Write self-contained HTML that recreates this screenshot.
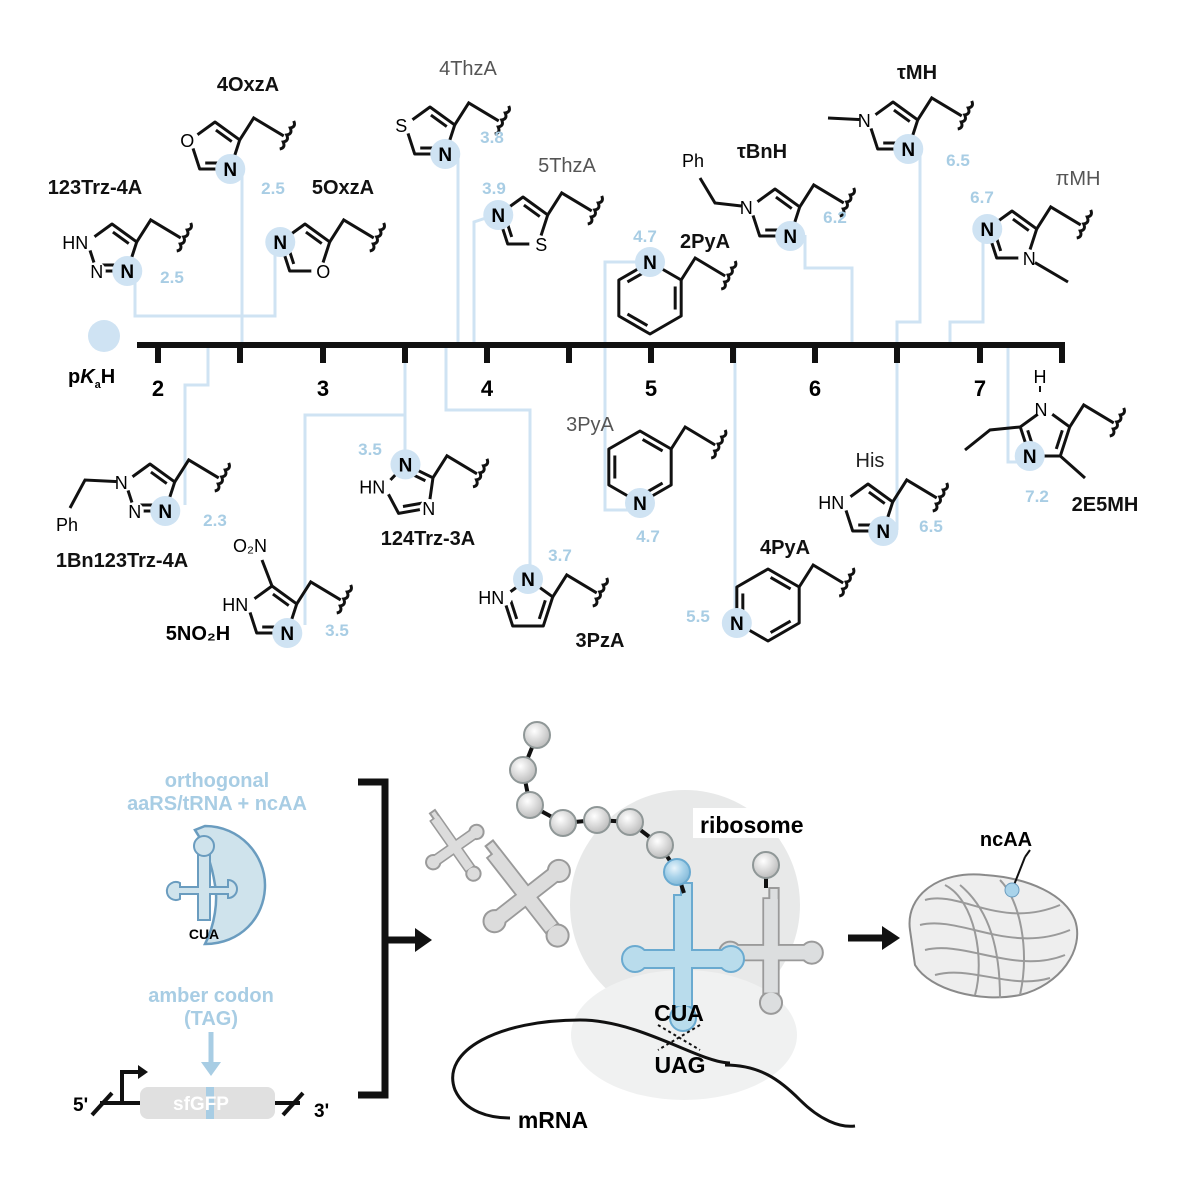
<!DOCTYPE html>
<html><head><meta charset="utf-8">
<style>
html,body{margin:0;padding:0;background:#fff;}
svg{display:block;font-family:"Liberation Sans",sans-serif;}
.b{font-weight:bold;}
</style></head>
<body>
<svg id="s" width="1200" height="1200" viewBox="0 0 1200 1200" xmlns="http://www.w3.org/2000/svg">
<defs>
<radialGradient id="bead" cx="0.4" cy="0.35" r="0.7">
<stop offset="0" stop-color="#ffffff"/><stop offset="0.5" stop-color="#dcdcdc"/><stop offset="1" stop-color="#b8b8b8"/></radialGradient>
<radialGradient id="bbead" cx="0.4" cy="0.35" r="0.7">
<stop offset="0" stop-color="#e8f4fb"/><stop offset="0.5" stop-color="#a9d3ea"/><stop offset="1" stop-color="#7fb6d6"/></radialGradient>
</defs>
<g id="conn" fill="none" stroke="#cfe3f3" stroke-width="3">
<polyline points="135,270 135,316 275,316 275,243"/>
<polyline points="242,170 242,345"/>
<polyline points="185,505 185,385 208,385 208,345"/>
<polyline points="305,625 305,415 405,415 405,345"/>
<polyline points="405,460 405,345"/>
<polyline points="458,150 458,345"/>
<polyline points="495,215 474,222 474,345"/>
<polyline points="530,578 530,410 446,410 446,345"/>
<polyline points="640,262 605,262 605,510 640,510"/>
<polyline points="735,625 735,345"/>
<polyline points="805,235 805,268 852,268 852,345"/>
<polyline points="920,155 920,322 897,322 897,530"/>
<polyline points="983,235 983,322 950,322 950,345"/>
<polyline points="1008,345 1008,462 1030,462"/>
</g>
<circle cx="104" cy="336" r="16" fill="#cfe3f3"/>
<text x="68" y="383" font-size="20" class="b">p<tspan font-style="italic">K</tspan><tspan font-size="11" dy="5">a</tspan><tspan dy="-5">H</tspan></text>
<g id="axis" stroke="#111" stroke-width="6" fill="none">
<line x1="137" y1="345" x2="1065" y2="345"/>
</g>
<g id="mols"></g>
<g id="ticks" font-size="22" class="b" text-anchor="middle">
<text x="158" y="396">2</text><text x="323" y="396">3</text><text x="487" y="396">4</text>
<text x="651" y="396">5</text><text x="815" y="396">6</text><text x="980" y="396">7</text>
</g>

<g font-size="20" class="b" fill="#a8cde4" text-anchor="middle">
<text x="217" y="787">orthogonal</text><text x="217" y="810">aaRS/tRNA + ncAA</text>
<text x="211" y="1002">amber codon</text><text x="211" y="1025">(TAG)</text>
</g>
<path d="M205,826 C240,826 265,855 265,885 C265,918 240,944 205,944 C215,925 218,900 215,885 C212,865 205,845 195,830 Z" fill="#cfe3ec" stroke="#6a9cbf" stroke-width="2.5"/>
<g fill="#cfe3ec" stroke="#6a9cbf" stroke-width="2">
<path d="M198,855 h12 v32 h18 v-7 a9,9 0 1 1 0,18 v-4 h-18 v26 h-12 v-26 h-18 v5 a9,9 0 1 1 0,-16 v4 h18 Z"/>
<circle cx="204" cy="846" r="10"/>
</g>
<text x="204" y="939" font-size="14" class="b" text-anchor="middle">CUA</text>
<line x1="211" y1="1032" x2="211" y2="1065" stroke="#a8cde4" stroke-width="5"/>
<polygon points="201,1062 221,1062 211,1076" fill="#a8cde4"/>
<line x1="100" y1="1103" x2="300" y2="1103" stroke="#111" stroke-width="4"/>
<rect x="140" y="1087" width="135" height="32" rx="8" fill="#e0e0e0"/>
<rect x="206" y="1087" width="8" height="32" fill="#a8cde4"/>
<text x="201" y="1110" font-size="19" class="b" fill="#fff" text-anchor="middle">sfGFP</text>
<polyline points="122,1103 122,1072 140,1072" fill="none" stroke="#111" stroke-width="4"/>
<polygon points="138,1065 148,1072 138,1079" fill="#111"/>
<line x1="92" y1="1115" x2="112" y2="1093" stroke="#111" stroke-width="4"/>
<line x1="283" y1="1115" x2="303" y2="1093" stroke="#111" stroke-width="4"/>
<text x="73" y="1111" font-size="19" class="b">5'</text>
<text x="314" y="1117" font-size="19" class="b">3'</text>
<polyline points="358,782 385,782 385,1095 358,1095" fill="none" stroke="#111" stroke-width="7"/>
<line x1="385" y1="940" x2="418" y2="940" stroke="#111" stroke-width="7"/>
<polygon points="415,928 432,940 415,952" fill="#111"/>

<circle cx="685" cy="905" r="115" fill="#e8e9e9"/>
<ellipse cx="684" cy="1035" rx="113" ry="65" fill="#f0f1f1"/>
<rect x="693" y="808" width="120" height="30" fill="#fff"/>
<text x="700" y="833" font-size="23" class="b">ribosome</text>
<path d="M730,1063 C700,1063 640,1020 580,1020 C500,1020 440,1050 455,1090 C465,1112 490,1118 510,1118" fill="none" stroke="#111" stroke-width="3"/>
<path d="M725,1065 C760,1065 780,1080 800,1100 C820,1120 840,1128 855,1126" fill="none" stroke="#111" stroke-width="3"/>
<text x="553" y="1128" font-size="23" class="b" text-anchor="middle">mRNA</text>

<g id="trnas"></g>
<g id="beads"></g>
<text x="679" y="1021" font-size="23" class="b" text-anchor="middle">CUA</text>
<text x="680" y="1073" font-size="23" class="b" text-anchor="middle">UAG</text>
<path d="M658,1025 L700,1050 M700,1025 L658,1050" stroke="#111" stroke-width="2" stroke-dasharray="3,3"/>

<line x1="848" y1="938" x2="885" y2="938" stroke="#111" stroke-width="7"/>
<polygon points="882,926 900,938 882,950" fill="#111"/>
<g fill="#eeeeee" stroke="#8a8a8a" stroke-width="2">
<path d="M910,930 C905,895 940,870 985,875 C1030,878 1065,895 1075,920 C1085,950 1060,985 1020,995 C980,1003 930,990 915,965 Z"/>
</g>
<g fill="none" stroke="#9a9a9a" stroke-width="2">
<path d="M925,900 C960,890 1000,930 1060,905"/>
<path d="M920,925 C960,915 1010,955 1070,930"/>
<path d="M925,950 C965,940 1015,975 1065,955"/>
<path d="M935,975 C970,965 1010,990 1050,978"/>
<path d="M945,885 C975,900 985,960 975,995"/>
<path d="M1000,880 C1020,900 1030,950 1020,995"/>
<path d="M960,885 C990,910 1000,950 1000,998"/>
</g>
<line x1="1012" y1="890" x2="1025" y2="857" stroke="#111" stroke-width="2"/>
<line x1="1025" y1="857" x2="1030" y2="850" stroke="#111" stroke-width="2"/>
<circle cx="1012" cy="890" r="7" fill="#a9d3ea" stroke="#6a9cbf"/>
<text x="1006" y="846" font-size="20" class="b" text-anchor="middle">ncAA</text>
</svg>
<script>
var NS="http://www.w3.org/2000/svg";
function el(p,t,a,txt){var e=document.createElementNS(NS,t);for(var k in a)e.setAttribute(k,a[k]);if(txt!==undefined)e.textContent=txt;p.appendChild(e);return e;}
var M=document.getElementById('mols');
[158,240,323,405,487,569,651,733,815,897,980,1062].forEach(function(x){el(M,'line',{x1:x,y1:343,x2:x,y2:363,stroke:'#111','stroke-width':6});});
function verts(cx,cy,r,n,rot){var v=[];for(var i=0;i<n;i++){var a=(rot+i*360/n)*Math.PI/180;v.push([cx+r*Math.cos(a),cy+r*Math.sin(a)]);}return v;}
function squig(x,y){var d="M"+(x-6)+","+(y+13);for(var i=0;i<4;i++){d+=" q6,-1 3.5,-7";}el(M,'path',{d:d,fill:'none',stroke:'#111','stroke-width':3});}
function chain(p){var a=[p[0],p[1]],b=[p[0]+14,p[1]-22],c=[p[0]+44,p[1]-4];el(M,'polyline',{points:[a,b,c].map(function(q){return q.join(',')}).join(' '),fill:'none',stroke:'#111','stroke-width':3});squig(c[0]+2,c[1]);}
function ring(o){var n=o.n||5;var v=verts(o.cx,o.cy,o.r||26,n,o.rot===undefined?-90:o.rot);
 el(M,'polygon',{points:v.map(function(q){return q.join(',')}).join(' '),fill:'none',stroke:'#111','stroke-width':3,'stroke-linejoin':'round'});
 (o.dbl||[]).forEach(function(i){var a=v[i],b=v[(i+1)%n];var mx=(a[0]+b[0])/2,my=(a[1]+b[1])/2;var sx=o.cx-mx,sy=o.cy-my;var L=Math.hypot(sx,sy);sx=sx/L*6;sy=sy/L*6;
  el(M,'line',{x1:a[0]+(b[0]-a[0])*0.18+sx,y1:a[1]+(b[1]-a[1])*0.18+sy,x2:a[0]+(b[0]-a[0])*0.82+sx,y2:a[1]+(b[1]-a[1])*0.82+sy,stroke:'#111','stroke-width':3});});
 if(o.sub!==undefined)chain(v[o.sub]);
 (o.extra||[]).forEach(function(e){var p=v[e[0]];el(M,'polyline',{points:[p].concat(e[1]).map(function(q){return q.join(',')}).join(' '),fill:'none',stroke:'#111','stroke-width':3});});
 var h=v[o.hl];el(M,'circle',{cx:h[0],cy:h[1],r:15,fill:'#cfe3f3'});
 el(M,'text',{x:h[0],y:h[1]+7,'font-size':19,'class':'b','text-anchor':'middle'},'N');
 (o.atoms||[]).forEach(function(a){var p=v[a[0]];el(M,'circle',{cx:p[0],cy:p[1],r:9,fill:'#fff'});el(M,'text',{x:p[0]+(a[2]||0),y:p[1]+7,'font-size':18,'text-anchor':'middle'},a[1]);});
 if(o.pk)el(M,'text',{x:o.pk[0],y:o.pk[1],'font-size':17,'class':'b',fill:'#a8cde4','text-anchor':'middle'},o.pk[2]);
 if(o.lab)el(M,'text',{x:o.lab[0],y:o.lab[1],'font-size':20,'class':o.lab[3]?'':'b',fill:o.lab[3]?(o.lab[4]||'#555'):'#111','text-anchor':'middle'},o.lab[2]);
}
ring({cx:112,cy:250,sub:1,hl:2,dbl:[0,2],atoms:[[4,'HN',-12],[3,'N']],pk:[172,283,'2.5'],lab:[95,194,'123Trz-4A']});
ring({cx:215,cy:148,sub:1,hl:2,dbl:[0,2],atoms:[[4,'O',-3]],pk:[273,194,'2.5'],lab:[248,91,'4OxzA']});
ring({cx:305,cy:250,sub:1,hl:4,dbl:[0,3],atoms:[[2,'O',3]],lab:[343,194,'5OxzA']});
ring({cx:430,cy:133,sub:1,hl:2,dbl:[0,2],atoms:[[4,'S',-4]],pk:[492,143,'3.8'],lab:[468,75,'4ThzA',1]});
ring({cx:523,cy:223,sub:1,hl:4,dbl:[0,3],atoms:[[2,'S',3]],pk:[494,194,'3.9'],lab:[567,172,'5ThzA',1]});
ring({cx:775,cy:215,sub:1,hl:2,dbl:[0,2],atoms:[[4,'N',-4]],extra:[[4,[[715,203],[700,178]]]],pk:[835,223,'6.2'],lab:[762,158,'τBnH']});
el(M,'text',{x:693,y:167,'font-size':18,'text-anchor':'middle'},'Ph');
ring({cx:893,cy:128,sub:1,hl:2,dbl:[0,2],atoms:[[4,'N',-4]],extra:[[4,[[828,118]]]],pk:[958,166,'6.5'],lab:[917,79,'τMH']});
ring({cx:1012,cy:237,sub:1,hl:4,dbl:[0,3],atoms:[[2,'N',2]],extra:[[2,[[1068,282]]]],pk:[982,203,'6.7'],lab:[1078,185,'πMH',1]});
ring({cx:150,cy:490,sub:1,hl:2,dbl:[0,2],atoms:[[4,'N',-4],[3,'N']],extra:[[4,[[85,480],[70,508]]]],pk:[215,526,'2.3'],lab:[122,567,'1Bn123Trz-4A']});
el(M,'text',{x:67,y:531,'font-size':18,'text-anchor':'middle'},'Ph');
ring({cx:272,cy:612,sub:1,hl:2,dbl:[0,2],atoms:[[4,'HN',-12]],extra:[[0,[[262,560]]]],pk:[337,636,'3.5']});
el(M,'text',{x:250,y:552,'font-size':18,'text-anchor':'middle'},'O₂N');
el(M,'text',{x:198,y:640,'font-size':20,'class':'b','text-anchor':'middle'},'5NO₂H');
ring({cx:410,cy:490,rot:-100,sub:1,hl:0,dbl:[0,2],atoms:[[4,'HN',-12],[2,'N']],pk:[370,455,'3.5'],lab:[428,545,'124Trz-3A']});
ring({cx:528,cy:605,sub:1,hl:0,dbl:[1,3],atoms:[[4,'HN',-12]],pk:[560,561,'3.7'],lab:[600,647,'3PzA']});
ring({cx:868,cy:510,sub:1,hl:2,dbl:[0,2],atoms:[[4,'HN',-12]],pk:[931,532,'6.5'],lab:[870,467,'His',1,'#222']});
ring({cx:1045,cy:435,sub:1,hl:3,dbl:[1,3],atoms:[[0,'N',-4]],extra:[[2,[[1085,478]]],[4,[[990,430],[965,450]]]],pk:[1037,502,'7.2'],lab:[1105,511,'2E5MH']});
el(M,'text',{x:1040,y:383,'font-size':18,'text-anchor':'middle'},'H');
el(M,'line',{x1:1040,y1:386,x2:1040,y2:392,stroke:'#111','stroke-width':2});
ring({n:6,r:36,cx:650,cy:298,sub:1,hl:0,dbl:[1,3,5],pk:[645,242,'4.7'],lab:[705,248,'2PyA']});
ring({n:6,r:36,cx:640,cy:467,sub:1,hl:3,dbl:[0,2,4],pk:[648,542,'4.7'],lab:[590,431,'3PyA',1]});
ring({n:6,r:36,cx:768,cy:605,rot:-90,sub:1,hl:4,dbl:[0,2,4],pk:[698,622,'5.5'],lab:[785,554,'4PyA']});
var T=document.getElementById('trnas');
function trna(x,y,s,rot,fill,stroke){var g=el(T,'g',{transform:'translate('+x+','+y+') rotate('+rot+') scale('+s+')',fill:fill,stroke:stroke,'stroke-width':2/s});
 el(g,'path',{d:'M-9,-55 h7 v-12 h11 v67 h36 v18 h-36 v50 h-18 v-50 h-36 v-18 h36 Z'});
 el(g,'circle',{cx:-48,cy:9,r:13});el(g,'circle',{cx:48,cy:9,r:13});el(g,'circle',{cx:0,cy:68,r:13});
 el(g,'rect',{x:-8,y:-54,width:16,height:110,stroke:'none'});el(g,'rect',{x:-46,y:1,width:92,height:16,stroke:'none'});}
trna(452,843,0.55,-35,'#dcdcdc','#9a9a9a');
trna(522,890,0.85,-38,'#dcdcdc','#9a9a9a');
trna(771,945,0.85,0,'#dcdedf','#9a9a9a');
trna(683,950,1,0,'#b9dcec','#6aaad0');
var B=document.getElementById('beads');
var pts=[[537,735],[523,770],[530,805],[563,823],[597,820],[630,822],[660,845],[677,872]];
for(var i=0;i<pts.length-1;i++)el(B,'line',{x1:pts[i][0],y1:pts[i][1],x2:pts[i+1][0],y2:pts[i+1][1],stroke:'#111','stroke-width':4});
el(B,'line',{x1:677,y1:872,x2:684,y2:893,stroke:'#111','stroke-width':4});
el(B,'line',{x1:766,y1:867,x2:766,y2:888,stroke:'#111','stroke-width':4});
pts.forEach(function(p,i){el(B,'circle',{cx:p[0],cy:p[1],r:13,fill:i==7?'url(#bbead)':'url(#bead)',stroke:i==7?'#6aaad0':'#8f9797','stroke-width':2});});
el(B,'circle',{cx:766,cy:865,r:13,fill:'url(#bead)',stroke:'#8f9797','stroke-width':2});
</script>
</body></html>
